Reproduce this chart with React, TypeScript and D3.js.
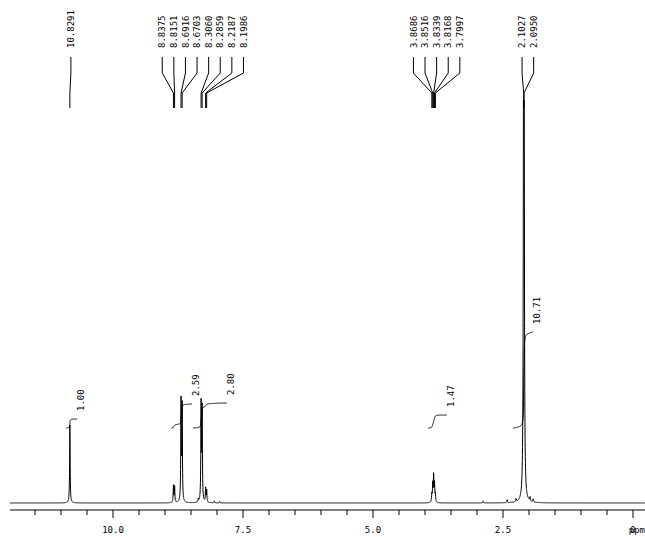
import React, { useEffect, useRef } from 'react';
import * as d3 from 'd3';

// labelled peaks (ppm) and their heights (relative intensity)
const peakPpm = [10.8291, 8.8375, 8.8151, 8.6916, 8.6703, 8.3060, 8.2859, 8.2187, 8.1986,
  3.8686, 3.8516, 3.8339, 3.8168, 3.7997, 2.1027, 2.0950];
const peakHeight = [78, 17, 16, 100, 95, 97, 92, 14, 12, 8, 18, 26, 18, 8, 520, 500];
const peakLabels = ['10.8291', '8.8375', '8.8151', '8.6916', '8.6703', '8.3060', '8.2859', '8.2187', '8.1986',
  '3.8686', '3.8516', '3.8339', '3.8168', '3.7997', '2.1027', '2.0950'];
const labelGroups = [[0], [1, 2, 3, 4, 5, 6, 7, 8], [9, 10, 11, 12, 13], [14, 15]];

// small unlabelled signals
const minorPpm = [8.36, 8.05, 7.95, 2.88, 2.42, 2.25, 1.98, 1.92];
const minorHeight = [3, 2, 1.5, 2, 3, 3, 4, 3];

// integrals
const integralFrom = [10.90, 8.88, 8.46, 3.94, 2.31];
const integralTo = [10.69, 8.48, 7.81, 3.58, 1.92];
const integralLabels = ['1.00', '2.59', '2.80', '1.47', '10.71'];
const integralRise = [9, 24, 25, 13, 96];

const axisLabels = [10, 7.5, 5, 2.5];

const App = () => {
  const ref = useRef(null);

  useEffect(() => {
    const svg = d3.select(ref.current);
    svg.selectAll('*').remove();

    const x = d3.scaleLinear().domain([10, 0]).range([113, 633]);
    const y = d3.scaleLinear().domain([0, 100]).range([503, 403]);
    const left = 10, right = 645;
    const font = "'DejaVu Sans Mono', monospace";

    const allPpm = peakPpm.concat(minorPpm);
    const allH = peakHeight.concat(minorHeight);
    const w = 0.006;
    const lor = (p) => {
      let s = 0;
      for (let i = 0; i < allPpm.length; i++) {
        const d = (p - allPpm[i]) / w;
        s += allH[i] / (1 + d * d);
      }
      return s;
    };
    let grid = d3.range(x.invert(left), x.invert(right), -0.002).concat(allPpm);
    grid.sort((a, b) => b - a);
    const spec = grid.map(p => [p, lor(p)]);

    svg.append('defs').append('clipPath').attr('id', 'plotclip')
      .append('rect').attr('x', left).attr('y', 100).attr('width', right - left).attr('height', 410);

    const line = d3.line().x(d => x(d[0])).y(d => y(d[1]));
    svg.append('path')
      .attr('d', line(spec))
      .attr('clip-path', 'url(#plotclip)')
      .attr('fill', 'none')
      .attr('stroke', '#000')
      .attr('stroke-width', 1);

    // integral curves
    const base = 75;
    integralFrom.forEach((f, k) => {
      const t = integralTo[k];
      const pts = spec.filter(d => d[0] <= f && d[0] >= t);
      const tot = d3.sum(pts, d => d[1]);
      let acc = 0;
      const curve = pts.map(d => { acc += d[1]; return [d[0], base + integralRise[k] * acc / tot]; });
      svg.append('path')
        .attr('d', line(curve))
        .attr('fill', 'none')
        .attr('stroke', '#000')
        .attr('stroke-width', 1);
      const lx = x(t) + 4;
      const ly = y(base + integralRise[k]) - 8;
      svg.append('text')
        .attr('transform', `translate(${lx},${ly}) rotate(-90)`)
        .attr('dy', '.35em')
        .style('font-family', font)
        .style('font-size', '9px')
        .text(integralLabels[k]);
    });

    // peak labels with leader lines
    const shifts = [1, 12, 3, 4];
    const spacing = 11.6;
    labelGroups.forEach((g, gi) => {
      const mean = d3.mean(g, i => x(peakPpm[i]));
      const start = mean + shifts[gi] - spacing * (g.length - 1) / 2;
      g.forEach((i, j) => {
        const lx = start + spacing * j;
        const px = x(peakPpm[i]);
        svg.append('text')
          .attr('transform', `translate(${lx},48) rotate(-90)`)
          .attr('dy', '.35em')
          .style('font-family', font)
          .style('font-size', '9px')
          .text(peakLabels[i]);
        svg.append('path')
          .attr('d', `M${lx},57V73L${px},93V108`)
          .attr('fill', 'none')
          .attr('stroke', '#000')
          .attr('stroke-width', 1);
      });
    });

    // axis
    svg.append('line')
      .attr('x1', left).attr('x2', right).attr('y1', 510).attr('y2', 510)
      .attr('stroke', '#000').attr('stroke-width', 1);
    const ticks = d3.range(0, 24).map(i => i * 0.5);
    svg.selectAll('.tick').data(ticks).join('line')
      .attr('class', 'tick')
      .attr('x1', d => x(d)).attr('x2', d => x(d))
      .attr('y1', 510)
      .attr('y2', d => (d % 2.5 === 0 ? 518 : 515))
      .attr('stroke', '#000').attr('stroke-width', 1);
    svg.selectAll('.tl').data(axisLabels).join('text')
      .attr('class', 'tl')
      .attr('x', d => x(d)).attr('y', 533)
      .attr('text-anchor', 'middle')
      .style('font-family', font).style('font-size', '9px')
      .text(d => d.toFixed(1));
    svg.append('text')
      .attr('x', x(0)).attr('y', 533)
      .attr('text-anchor', 'middle')
      .style('font-family', font).style('font-size', '9px')
      .text('0');
    svg.append('text')
      .attr('x', right).attr('y', 533)
      .attr('text-anchor', 'end')
      .style('font-family', font).style('font-size', '9px')
      .text('ppm');
  }, []);

  return (
    <svg ref={ref} width={645} height={537}
      style={{ position: 'absolute', left: 0, top: 0, background: '#fff' }} />
  );
};

export default App;
